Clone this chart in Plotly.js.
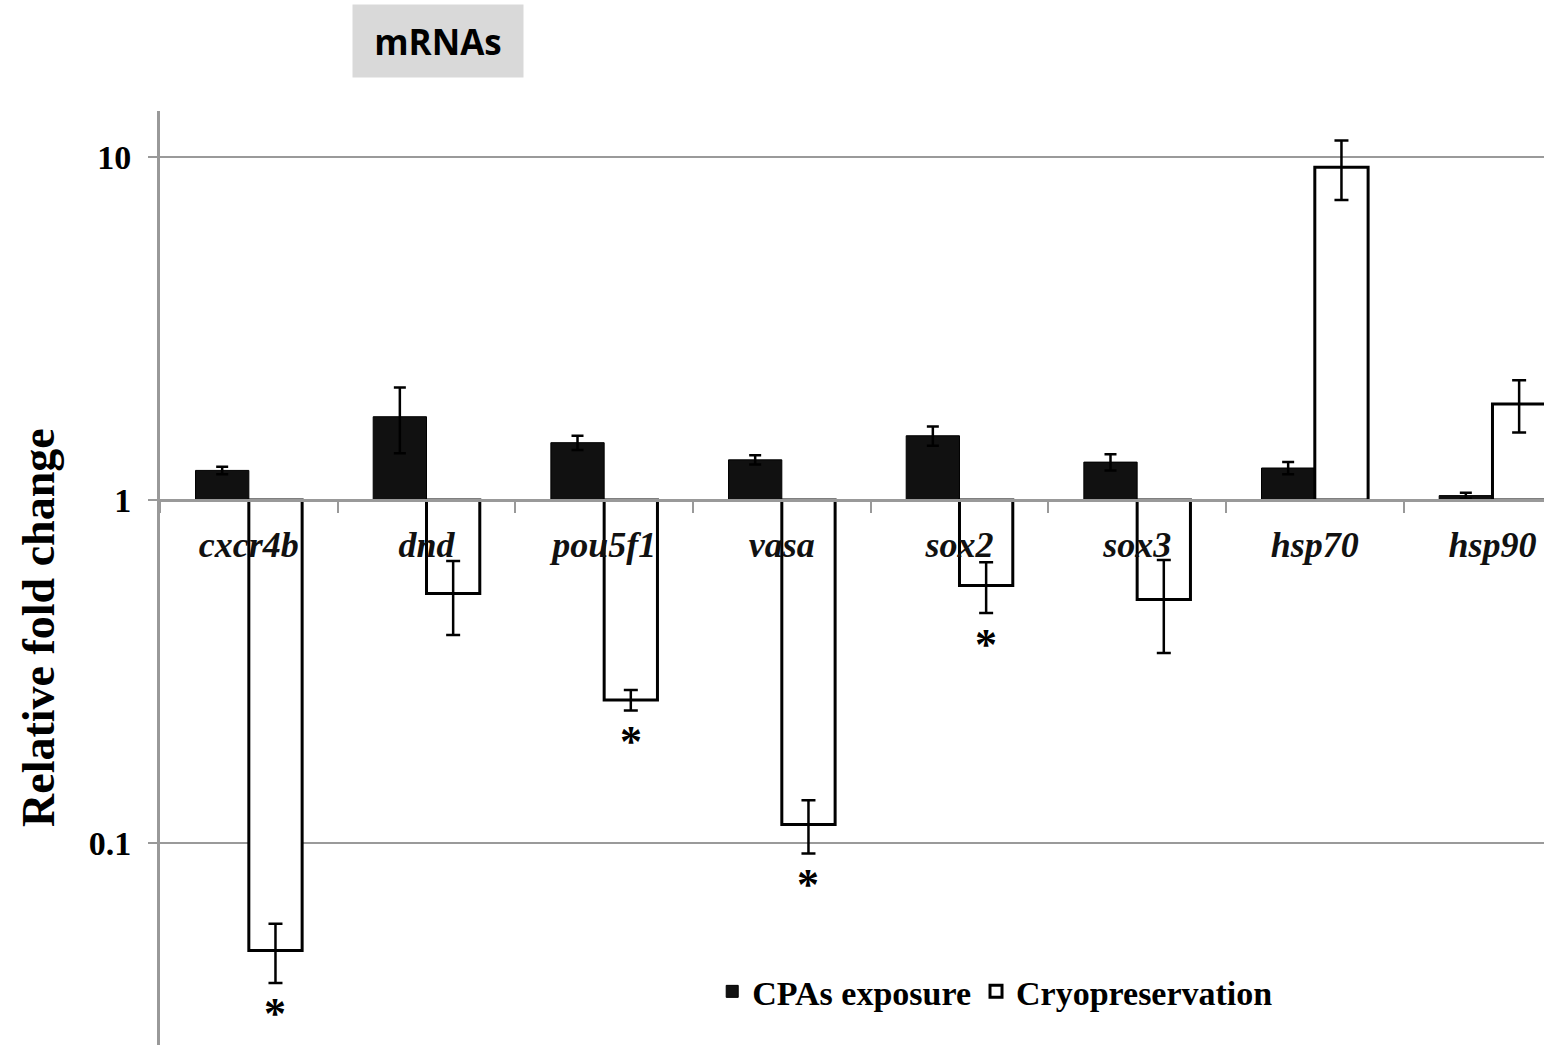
<!DOCTYPE html>
<html>
<head>
<meta charset="utf-8">
<script src="https://cdn.plot.ly/plotly-3.0.1.min.js"></script>
<style>html,body{margin:0;padding:0;overflow:hidden;background:#fff}</style>
</head>
<body>
<div id="chart" style="width:1544px;height:1045px"></div>
<script>
// ---- data (relative fold change) ----
const genes = ['cxcr4b', 'dnd', 'pou5f1', 'vasa', 'sox2', 'sox3', 'hsp70', 'hsp90'];
const seriesNames = ['CPAs exposure', 'Cryopreservation'];
const cpaValues  = [1.22, 1.75, 1.47, 1.31, 1.54, 1.29, 1.24, 1.03];
const cpaErrors  = [0.03, 0.38, 0.07, 0.04, 0.10, 0.07, 0.05, 0.02];
const cryoValues = [0.0485, 0.534, 0.261, 0.113, 0.563, 0.513, 9.35, 1.905];
const cryoErrors = [0.0095, 0.13, 0.018, 0.020, 0.095, 0.155, 1.85, 0.33];
const cryoSignificance = ['*', '', '*', '*', '*', '', '', ''];
const yTickVals = [0.1, 1, 10];
const yTickText = ['0.1', '1', '10'];

// ---- layout constants ----
const yRange = [-1.59, 1.135];          // log10 units
const baseline = 1;                      // bars grow from fold change = 1
const serif = 'Liberation Serif, Times New Roman, serif';

const traces = [
  {
    type: 'bar', name: seriesNames[0], x: genes,
    base: baseline, y: cpaValues.map(v => v - baseline),
    marker: {color: '#111111', line: {color: '#000000', width: 1}},
    error_y: {type: 'data', array: cpaErrors, color: '#000', thickness: 2.5, width: 6}
  },
  {
    type: 'bar', name: seriesNames[1], x: genes,
    base: baseline, y: cryoValues.map(v => v - baseline),
    marker: {color: '#ffffff', line: {color: '#000000', width: 3}},
    error_y: {type: 'data', array: cryoErrors, color: '#000', thickness: 2.5, width: 7}
  }
];

const xPosition = (0 - yRange[0]) / (yRange[1] - yRange[0]);

const annotations = [];
cryoSignificance.forEach((s, i) => {
  if (!s) return;
  annotations.push({
    xref: 'x', yref: 'y', x: i + 0.15,
    y: Math.log10(cryoValues[i] - cryoErrors[i]),
    text: s, showarrow: false, yanchor: 'middle', yshift: -31,
    font: {family: serif, size: 44, color: '#000', weight: 'bold'}
  });
});
annotations.push({
  xref: 'paper', yref: 'paper', x: -0.0882, y: 0.4475,
  text: 'Relative fold change', textangle: -90, showarrow: false,
  xanchor: 'center', yanchor: 'middle',
  font: {family: serif, size: 46, color: '#000', weight: 'bold'}
});
annotations.push({
  xref: 'paper', yref: 'paper', x: 0.2009, y: 1.075,
  text: 'mRNAs', showarrow: false, xanchor: 'center', yanchor: 'middle',
  width: 170, height: 72, borderpad: 0, bgcolor: '#d9d9d9',
  font: {family: 'Open Sans, sans-serif', size: 35, color: '#000', weight: 'bold'}
});

const layout = {
  width: 1544, height: 1045,
  margin: {l: 160, r: 0, t: 111, b: 0},
  paper_bgcolor: '#ffffff', plot_bgcolor: '#ffffff',
  barmode: 'group', bargap: 0.4, bargroupgap: 0,
  showlegend: true,
  legend: {
    orientation: 'h', x: 0.399, xanchor: 'left', y: 0.057, yanchor: 'middle',
    bgcolor: 'rgba(0,0,0,0)', font: {family: serif, size: 34, color: '#000', weight: 'bold'},
    itemwidth: 30, tracegroupgap: 0
  },
  xaxis: {
    type: 'category', range: [-0.5, 7.29],
    anchor: 'free', position: xPosition,
    showline: true, linecolor: '#999999', linewidth: 3,
    ticks: 'outside', tickson: 'boundaries', ticklen: 11, tickcolor: '#999999', tickwidth: 2,
    ticklabelstandoff: 12,
    showgrid: false, zeroline: false,
    tickfont: {family: serif, size: 36, color: '#111', weight: 'bold', style: 'italic'}
  },
  yaxis: {
    type: 'log', range: yRange,
    tickvals: yTickVals, ticktext: yTickText,
    showline: true, linecolor: '#999999', linewidth: 3,
    ticks: 'outside', ticklen: 9, tickcolor: '#999999', tickwidth: 2,
    ticklabelstandoff: 10,
    showgrid: true, gridcolor: '#9a9a9a', gridwidth: 2,
    zeroline: false,
    tickfont: {family: serif, size: 34, color: '#000', weight: 'bold'}
  },
  annotations: annotations
};

Plotly.newPlot('chart', traces, layout, {displayModeBar: false, staticPlot: true});
</script>
</body>
</html>
